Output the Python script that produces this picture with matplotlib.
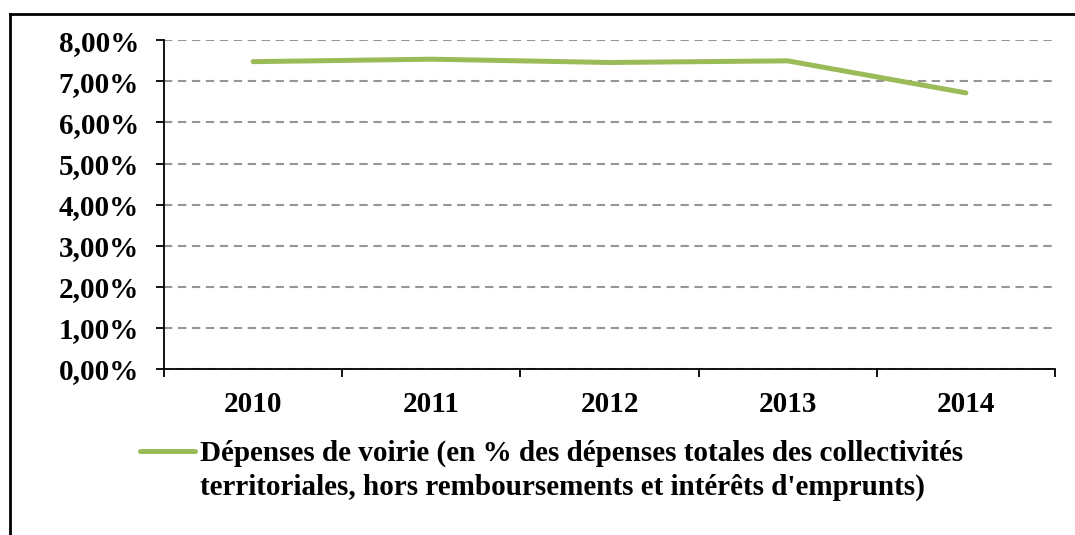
import matplotlib
matplotlib.use("Agg")
import matplotlib.pyplot as plt
from matplotlib.lines import Line2D
from matplotlib.ticker import FuncFormatter, FixedLocator

years = ["2010", "2011", "2012", "2013", "2014"]
voirie = [0.0748, 0.0754, 0.0746, 0.0750, 0.0672]
label = ("Dépenses de voirie (en % des dépenses totales des collectivités\n"
         "territoriales, hors remboursements et intérêts d'emprunts)")

GREEN = "#9BBB59"
GRID = "#969696"
FONT = "Liberation Serif"
FS = 21
W, H = 1075, 535

plt.rcParams["font.family"] = FONT
plt.rcParams["font.weight"] = "bold"

fig = plt.figure(figsize=(W / 100, H / 100), dpi=100)
ax = fig.add_axes([164 / W, 166 / H, 891 / W, 328.7 / H])

x = list(range(len(years)))
ax.plot(x, voirie, color=GREEN, linewidth=3.6, solid_capstyle="round",
        solid_joinstyle="round")

ax.set_xlim(-0.5, len(years) - 0.5)
ax.set_ylim(0, 0.08)
ax.set_yticks([i / 100 for i in range(9)])
ax.yaxis.set_major_formatter(FuncFormatter(lambda v, p: f"{v * 100:.2f}%".replace(".", ",")))
ax.set_xticks(x)
ax.set_xticklabels(years)
ax.xaxis.set_minor_locator(FixedLocator([i - 0.5 for i in range(len(years) + 1)]))

ax.tick_params(axis="x", which="major", length=0, pad=16, labelsize=FS)
ax.tick_params(axis="x", which="minor", length=6, width=1.3, direction="out")
ax.tick_params(axis="y", length=6, width=1.3, pad=12, labelsize=FS)

ax.grid(axis="y", color=GRID, linestyle=(0, (4, 2.7)), linewidth=1.5)
ax.set_axisbelow(True)
for s in ["top", "right"]:
    ax.spines[s].set_visible(False)
for s in ["left", "bottom"]:
    ax.spines[s].set_linewidth(1.3)

# legend: handle next to the first line of a two-line label
fig.add_artist(Line2D([140 / W, 195 / W], [1 - 451 / H, 1 - 451 / H], color=GREEN,
                      linewidth=3.6, solid_capstyle="round", transform=fig.transFigure))
fig.text(200 / W, 1 - 440 / H, label, fontsize=FS, ha="left", va="top",
         linespacing=1.3)

# outer frame (top and left only, as in the source image)
fig.add_artist(Line2D([10 / W, 10 / W], [0, 1 - 14 / H], color="black",
                      linewidth=2, transform=fig.transFigure))
fig.add_artist(Line2D([10 / W, 1], [1 - 14 / H, 1 - 14 / H], color="black",
                      linewidth=2, transform=fig.transFigure))

fig.savefig("out.png", dpi=100)
